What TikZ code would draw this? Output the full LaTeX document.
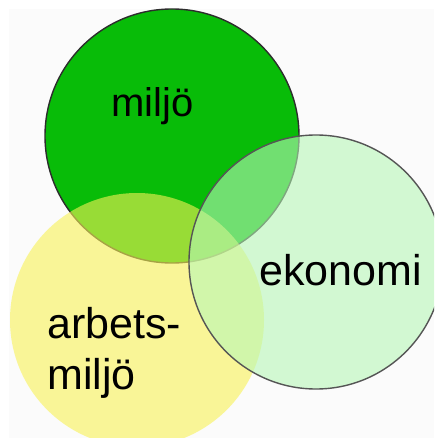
\documentclass[tikz,border=0pt]{standalone}
\usepackage{fontspec}
\setmainfont{Liberation Sans}
\definecolor{dgreen}{RGB}{8,188,8}
\definecolor{yel}{RGB}{248,242,85}
\definecolor{lgreen}{RGB}{183,247,183}
\definecolor{edge}{RGB}{45,45,45}
\definecolor{gedge}{RGB}{85,85,85}
\begin{document}
\begin{tikzpicture}[x=1pt,y=-1pt,
  lbl/.style={anchor=base west,inner sep=0pt,text=black}]
\useasboundingbox (0,0) rectangle (434,438);
\clip (0,0) rectangle (434,438);
\fill[white] (0,0) rectangle (434,438);
\fill[white!98.5!black] (9,9) rectangle (434,438);
% miljö circle
\draw[edge,line width=1.4pt,fill=dgreen] (172,136) circle (127);
% arbetsmiljö circle
\fill[yel,fill opacity=0.6] (137,320) circle (127);
% ekonomi circle
\draw[gedge,line width=1.4pt,fill=lgreen,fill opacity=0.6] (316,262) circle (127);
% labels
\node[lbl,font=\fontsize{40}{46}\selectfont] (m) at (111,117) {miljö};
\node[lbl,font=\fontsize{43}{50}\selectfont] (e) at (259,285) {ekonomi};
\node[lbl,font=\fontsize{43}{50}\selectfont] (a1) at (47,338) {arbets-};
\node[lbl,font=\fontsize{43}{50}\selectfont] (a2) at (47,389) {miljö};
\end{tikzpicture}
\end{document}
